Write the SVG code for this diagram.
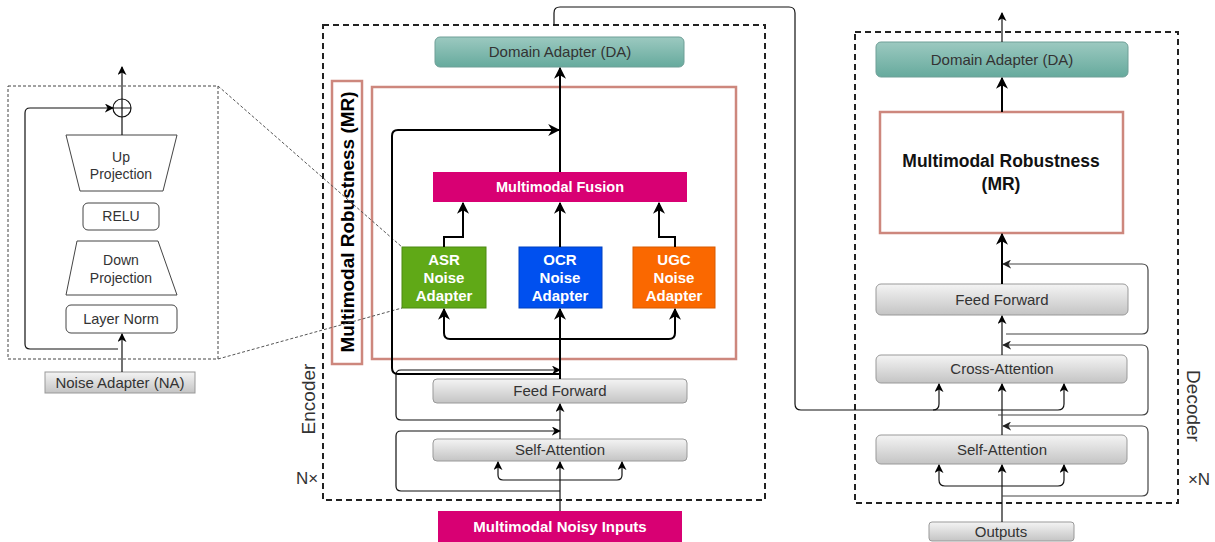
<svg xmlns="http://www.w3.org/2000/svg" width="1215" height="542" viewBox="0 0 1215 542">
<defs>
<linearGradient id="gGray" x1="0" y1="0" x2="0" y2="1"><stop offset="0" stop-color="#f4f4f4"/><stop offset="1" stop-color="#c4c4c4"/></linearGradient>
<linearGradient id="gTeal" x1="0" y1="0" x2="0" y2="1"><stop offset="0" stop-color="#9cc9c0"/><stop offset="1" stop-color="#66aa9d"/></linearGradient>
<marker id="ab" viewBox="0 0 10 10" refX="9" refY="5" markerWidth="12" markerHeight="12" markerUnits="userSpaceOnUse" orient="auto"><path d="M0,0 L10,5 L0,10 L3,5 z" fill="#000"/></marker>
<marker id="as" viewBox="0 0 10 10" refX="9" refY="5" markerWidth="9" markerHeight="9" markerUnits="userSpaceOnUse" orient="auto"><path d="M0,0 L10,5 L0,10 L3,5 z" fill="#000"/></marker>
<marker id="ag" viewBox="0 0 10 10" refX="9" refY="5" markerWidth="9" markerHeight="9" markerUnits="userSpaceOnUse" orient="auto"><path d="M0,0 L10,5 L0,10 L3,5 z" fill="#222"/></marker>
</defs>
<style>
.dash{fill:none;stroke:#222;stroke-width:2;stroke-dasharray:6 4}
.gray{fill:url(#gGray);stroke:#999;stroke-width:1}
.teal{fill:url(#gTeal);stroke:#6f9f97;stroke-width:1}
.mr{fill:#fff;stroke:#cd877d;stroke-width:2.5}
.t{font-family:"Liberation Sans",Arial,sans-serif;fill:#333;text-anchor:middle}
.tb{font-family:"Liberation Sans",Arial,sans-serif;font-weight:bold;fill:#fff;text-anchor:middle}
.thick{fill:none;stroke:#000;stroke-width:2}
.thin{fill:none;stroke:#111;stroke-width:1.2}
.thing{fill:none;stroke:#444;stroke-width:1.2}
.det{fill:#fff;stroke:#444;stroke-width:1}
</style>

<!-- Left detail (Noise Adapter) -->
<g id="na-detail">
<rect x="8" y="86" width="210" height="273" fill="none" stroke="#444" stroke-width="1" stroke-dasharray="3 2"/>
</g>
<g id="up-projection">
<polygon class="det" points="66,135 177,135 163,191 80,191"/>
<text class="t" x="121" y="162" font-size="14">Up</text>
<text class="t" x="121" y="179" font-size="14">Projection</text>
</g>
<g id="relu">
<rect class="det" x="83" y="203" width="76" height="27" rx="5"/>
<text class="t" x="121" y="221" font-size="14">RELU</text>
</g>
<g id="down-projection">
<polygon class="det" points="77,241 158,241 177,295 66,295"/>
<text class="t" x="121" y="265" font-size="14">Down</text>
<text class="t" x="121" y="283" font-size="14">Projection</text>
</g>
<g id="layer-norm">
<rect class="det" x="66" y="305" width="111" height="28" rx="5"/>
<text class="t" x="121" y="324" font-size="14.5">Layer Norm</text>
</g>
<g id="add">
<circle cx="122" cy="108" r="9" fill="#fff" stroke="#111" stroke-width="1.2"/>
<path d="M113,108 H131 M122,99 V117" stroke="#111" stroke-width="1.2"/>
</g>
<g id="noise-adapter-na">
<rect class="gray" x="45" y="372" width="150" height="21"/>
<text class="t" x="120" y="388" font-size="15">Noise Adapter (NA)</text>
</g>

<!-- Encoder -->
<g id="encoder">
<rect class="dash" x="323" y="25" width="442" height="475"/>
<text class="t" font-size="19" transform="translate(315,399) rotate(-90)">Encoder</text>
<text class="t" x="307" y="484" font-size="17">N×</text>
</g>
<g id="enc-mr">
<rect class="mr" x="372" y="87" width="364" height="272" fill="none"/>
</g>
<g id="enc-mr-label">
<rect class="mr" x="332" y="81" width="30" height="283"/>
<text class="tb" style="fill:#000" font-size="18.5" textLength="261" lengthAdjust="spacingAndGlyphs" transform="translate(353.5,222) rotate(-90)">Multimodal Robustness (MR)</text>
</g>
<g id="enc-da">
<rect class="teal" x="435" y="37" width="249" height="30" rx="5"/>
<text class="t" x="560" y="57" font-size="15">Domain Adapter (DA)</text>
</g>
<g id="fusion">
<rect x="433" y="172" width="254" height="30" fill="#d80073"/>
<text class="tb" x="560" y="192" font-size="14.5">Multimodal Fusion</text>
</g>
<g id="asr">
<rect x="402" y="247" width="84" height="61" fill="#60a917" stroke="#4d8a12"/>
<text class="tb" x="444" y="265" font-size="15">ASR</text>
<text class="tb" x="444" y="283" font-size="15">Noise</text>
<text class="tb" x="444" y="301" font-size="15">Adapter</text>
</g>
<g id="ocr">
<rect x="519" y="247" width="83" height="61" fill="#0050ef" stroke="#0040c0"/>
<text class="tb" x="560" y="265" font-size="15">OCR</text>
<text class="tb" x="560" y="283" font-size="15">Noise</text>
<text class="tb" x="560" y="301" font-size="15">Adapter</text>
</g>
<g id="ugc">
<rect x="633" y="247" width="82" height="61" fill="#fa6800" stroke="#d85a00"/>
<text class="tb" x="674" y="265" font-size="15">UGC</text>
<text class="tb" x="674" y="283" font-size="15">Noise</text>
<text class="tb" x="674" y="301" font-size="15">Adapter</text>
</g>
<g id="enc-ff">
<rect class="gray" x="433" y="379" width="254" height="24" rx="4"/>
<text class="t" x="560" y="396" font-size="15">Feed Forward</text>
</g>
<g id="enc-sa">
<rect class="gray" x="433" y="439" width="254" height="22" rx="4"/>
<text class="t" x="560" y="455" font-size="15">Self-Attention</text>
</g>
<g id="noisy-inputs">
<rect x="438" y="511" width="244" height="31" fill="#d80073"/>
<text class="tb" x="560" y="532" font-size="15">Multimodal Noisy Inputs</text>
</g>

<!-- Decoder -->
<g id="decoder">
<rect class="dash" x="855" y="32" width="323" height="471"/>
<text class="t" font-size="19" transform="translate(1187,406) rotate(90)">Decoder</text>
<text class="t" x="1199" y="485" font-size="17">×N</text>
</g>
<g id="dec-da">
<rect class="teal" x="876" y="42" width="252" height="35" rx="5"/>
<text class="t" x="1002" y="65" font-size="15">Domain Adapter (DA)</text>
</g>
<g id="dec-mr">
<rect class="mr" x="880" y="112" width="243" height="121"/>
<text class="t" style="fill:#111;font-weight:bold" x="1001" y="167" font-size="17.5">Multimodal Robustness</text>
<text class="t" style="fill:#111;font-weight:bold" x="1001" y="190" font-size="17.5">(MR)</text>
</g>
<g id="dec-ff">
<rect class="gray" x="876" y="284" width="252" height="31" rx="5"/>
<text class="t" x="1002" y="305" font-size="15">Feed Forward</text>
</g>
<g id="dec-ca">
<rect class="gray" x="876" y="355" width="251" height="28" rx="5"/>
<text class="t" x="1002" y="374" font-size="15">Cross-Attention</text>
</g>
<g id="dec-sa">
<rect class="gray" x="876" y="435" width="251" height="29" rx="5"/>
<text class="t" x="1002" y="455" font-size="15">Self-Attention</text>
</g>
<g id="outputs">
<rect class="gray" x="929" y="522" width="145" height="19" rx="3"/>
<text class="t" x="1001" y="537" font-size="15">Outputs</text>
</g>

<!-- Connectors -->
<g id="connectors">
<path class="thin" d="M122,117 V135"/>
<path class="thin" d="M122,99 V67" marker-end="url(#as)"/>
<path class="thin" d="M118,349 H30 Q25,349 25,344 V113 Q25,108 30,108 H113" marker-end="url(#as)"/>
<path class="thin" d="M122,372 V334" marker-end="url(#as)"/>
<path d="M218,86 L402,247 M218,359 L402,308" fill="none" stroke="#555" stroke-width="1" stroke-dasharray="3 2"/>

<path class="thin" d="M560,511 V462" marker-end="url(#as)"/>
<path class="thin" d="M560,480 H503 Q498,480 498,475 V462" marker-end="url(#as)"/>
<path class="thin" d="M560,480 H617 Q622,480 622,475 V462" marker-end="url(#as)"/>
<path class="thin" d="M560,491 H401 Q396,491 396,486 V436 Q396,431 401,431 H560" marker-end="url(#as)"/>
<path class="thin" d="M560,439 V404" marker-end="url(#as)"/>
<path class="thin" d="M560,420 H401 Q396,420 396,415 V375 Q396,370 401,370 H560" marker-end="url(#as)"/>
<path class="thick" d="M560,379 V309" marker-end="url(#ab)"/>
<path class="thick" d="M560,339 H450 Q444,339 444,333 V309" marker-end="url(#ab)"/>
<path class="thick" d="M560,339 H669 Q675,339 675,333 V309" marker-end="url(#ab)"/>
<path class="thick" d="M560,374 H398 Q392,374 392,368 V136 Q392,130 398,130 H559" marker-end="url(#ab)"/>
<path class="thick" d="M444,247 V237 H463 V203" marker-end="url(#ab)"/>
<path class="thick" d="M560,247 V203" marker-end="url(#ab)"/>
<path class="thick" d="M675,247 V237 H659 V203" marker-end="url(#ab)"/>
<path class="thick" d="M560,172 V68" marker-end="url(#ab)"/>

<path class="thin" d="M554,25 V13 Q554,7 560,7 H789 Q795,7 795,13 V404 Q795,410 801,410 H1058 Q1064,410 1064,404 V384" marker-end="url(#as)"/>
<path class="thin" d="M933,410 Q939,410 939,404 V384" marker-end="url(#as)"/>

<path class="thin" d="M1002,522 V465" marker-end="url(#as)"/>
<path class="thin" d="M1002,486 H945 Q939,486 939,480 V465" marker-end="url(#as)"/>
<path class="thin" d="M1002,486 H1058 Q1064,486 1064,480 V465" marker-end="url(#as)"/>
<path class="thing" d="M1002,496 H1142 Q1148,496 1148,490 V432 Q1148,426 1142,426 H1003" marker-end="url(#ag)"/>
<path class="thin" d="M1002,435 V384" marker-end="url(#as)"/>
<path class="thing" d="M998,415 H1142 Q1148,415 1148,409 V351 Q1148,345 1142,345 H1003" marker-end="url(#ag)"/>
<path class="thin" d="M1002,355 V316" marker-end="url(#as)"/>
<path class="thing" d="M1006,334 H1142 Q1148,334 1148,328 V270 Q1148,264 1142,264 H1003" marker-end="url(#ag)"/>
<path class="thick" d="M1002,284 V234" marker-end="url(#ab)"/>
<path class="thick" d="M1002,112 V78" marker-end="url(#ab)"/>
<path class="thin" d="M1002,42 V13" marker-end="url(#as)"/>
</g>
</svg>
